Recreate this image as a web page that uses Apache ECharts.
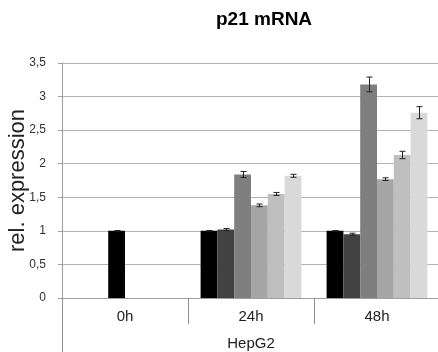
<!DOCTYPE html>
<html>
<head>
<meta charset="utf-8">
<script src="https://cdn.jsdelivr.net/npm/echarts@6/dist/echarts.min.js"></script>
<style>
html,body{margin:0;padding:0;background:#fff;}
#chart{width:438px;height:352px;}
</style>
</head>
<body>
<div id="chart"></div>
<script>
const categories = ['0h', '24h', '48h'];
const groupLabel = ['HepG2'];
const yTicks = [0, 0.5, 1, 1.5, 2, 2.5, 3, 3.5];

const s1 = [null, 1.00, 1.00];
const s2 = [null, 1.02, 0.95];
const s3 = [1.00, 1.84, 3.18];
const s4 = [null, 1.38, 1.77];
const s5 = [null, 1.55, 2.13];
const s6 = [null, 1.82, 2.76];

const e1 = [0, 0.005, 0.005];
const e2 = [0, 0.015, 0.015];
const e3 = [0.005, 0.045, 0.11];
const e4 = [0, 0.02, 0.02];
const e5 = [0, 0.022, 0.055];
const e6 = [0, 0.022, 0.09];

const seriesVals = [s1, s2, s3, s4, s5, s6];
const seriesErrs = [e1, e2, e3, e4, e5, e6];
const colors = ['#000000', '#424242', '#7f7f7f', '#a6a6a6', '#bfbfbf', '#d9d9d9'];

const font = '"Liberation Sans", Arial, sans-serif';
const nSeries = seriesVals.length;
const catGap = 0.2;

const errData = [];
seriesVals.forEach((vals, si) => {
  vals.forEach((v, ci) => {
    if (v != null) errData.push([ci, si, v - seriesErrs[si][ci], v + seriesErrs[si][ci]]);
  });
});

const barSeries = seriesVals.map((vals, si) => ({
  type: 'bar',
  name: 'S' + (si + 1),
  data: vals.map((v, ci) => {
    if (v == null) return null;
    // the 0h reference bar is drawn in black
    if (ci === 0) return { value: v, itemStyle: { color: '#000000' } };
    return v;
  }),
  itemStyle: { color: colors[si] },
  barGap: '0%',
  barCategoryGap: (catGap * 100) + '%',
  silent: true
}));

const errSeries = {
  type: 'custom',
  name: 'err',
  silent: true,
  z: 10,
  encode: { x: 0, y: [2, 3] },
  data: errData,
  renderItem: function (params, api) {
    const ci = api.value(0), si = api.value(1);
    const lo = api.value(2), hi = api.value(3);
    const band = api.size([1, 0])[0];
    const bw = band * (1 - catGap) / nSeries;
    const off = (si - (nSeries - 1) / 2) * bw;
    const pLo = api.coord([ci, lo]);
    const pHi = api.coord([ci, hi]);
    const x = Math.round(pLo[0] + off) + 0.5;
    const cap = 3;
    const st = { stroke: '#222', lineWidth: 1 };
    return {
      type: 'group',
      children: [
        { type: 'line', shape: { x1: x, y1: pLo[1], x2: x, y2: pHi[1] }, style: st },
        { type: 'line', shape: { x1: x - cap, y1: pLo[1], x2: x + cap, y2: pLo[1] }, style: st },
        { type: 'line', shape: { x1: x - cap, y1: pHi[1], x2: x + cap, y2: pHi[1] }, style: st }
      ]
    };
  }
};

const chart = echarts.init(document.getElementById('chart'), null, { renderer: 'canvas' });
chart.setOption({
  animation: false,
  backgroundColor: '#ffffff',
  title: {
    text: 'p21 mRNA',
    left: 211,
    top: 5,
    textStyle: { fontFamily: font, fontSize: 19, fontWeight: 'bold', color: '#000' }
  },
  grid: { left: 62, right: -2, top: 63, bottom: 54, containLabel: false, outerBoundsMode: 'none' },
  xAxis: [
    {
      type: 'category',
      data: categories,
      position: 'bottom',
      axisLine: { show: true, lineStyle: { color: '#a0a0a0', width: 1 } },
      axisTick: { show: true, interval: 0, length: 26, lineStyle: { color: '#909090' } },
      axisLabel: { margin: 11, fontFamily: font, fontSize: 15, color: '#222' },
      splitLine: { show: false }
    },
    {
      type: 'category',
      data: groupLabel,
      position: 'bottom',
      axisLine: { show: false },
      axisTick: { show: true, length: 54, lineStyle: { color: '#909090' } },
      axisLabel: { margin: 38, fontFamily: font, fontSize: 15, color: '#222' },
      splitLine: { show: false }
    }
  ],
  yAxis: {
    type: 'value',
    min: yTicks[0],
    max: yTicks[yTicks.length - 1],
    interval: 0.5,
    name: 'rel. expression',
    nameLocation: 'middle',
    nameGap: 33,
    nameMoveOverlap: false,
    nameTextStyle: { fontFamily: font, fontSize: 22, color: '#222' },
    axisLine: { show: true, lineStyle: { color: '#a0a0a0' } },
    axisTick: { show: true, length: 4, lineStyle: { color: '#a0a0a0' } },
    axisLabel: {
      margin: 16,
      fontFamily: font,
      fontSize: 12,
      color: '#333',
      formatter: v => String(v).replace('.', ',')
    },
    splitLine: { show: true, lineStyle: { color: '#b4b4b4', width: 1 } }
  },
  series: barSeries.concat([errSeries])
});
</script>
</body>
</html>
